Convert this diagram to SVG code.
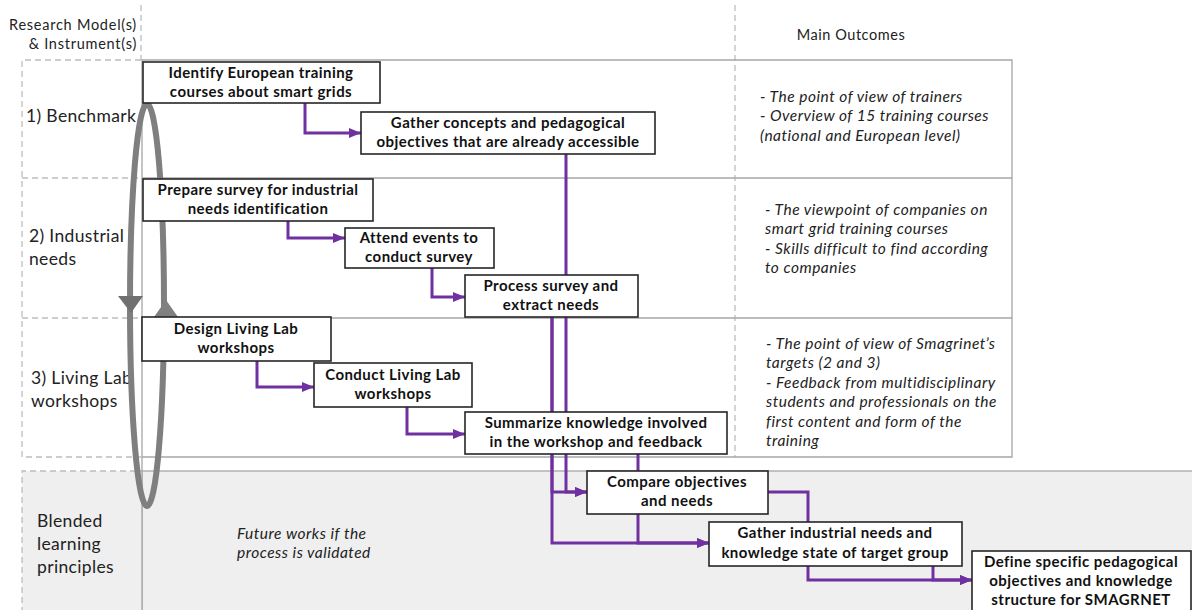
<svg xmlns="http://www.w3.org/2000/svg" width="1192" height="610" viewBox="0 0 1192 610">
<defs>
<style>
.grid{fill:none;stroke:#a6a6a6;stroke-width:1.3}
.dash{fill:none;stroke:#bdbdbd;stroke-width:1.3;stroke-dasharray:6,4}
.box{fill:#fff;stroke:#262626;stroke-width:1.6}
.nt{font-family:Lato,"Liberation Sans",sans-serif;font-weight:bold;font-size:15px;letter-spacing:0.45px;fill:#111;text-anchor:middle}
.lab{font-family:Lato,"Liberation Sans",sans-serif;font-size:17.5px;letter-spacing:0.35px;fill:#222}
.hdr{font-family:Lato,"Liberation Sans",sans-serif;font-size:14.5px;letter-spacing:0.55px;fill:#222}
.it{font-family:Lato,"Liberation Sans",sans-serif;font-style:italic;font-size:15.5px;letter-spacing:0.5px;fill:#222}
.con{fill:none;stroke:#7030a0;stroke-width:3}
</style>
<marker id="ah" markerUnits="userSpaceOnUse" viewBox="0 0 12 10" refX="12" refY="5" markerWidth="12" markerHeight="10" orient="auto">
<path d="M0,0 L12,5 L0,10 z" fill="#7030a0"/>
</marker>
</defs>
<rect width="1192" height="610" fill="#fff"/>
<!-- background grid -->
<g id="grid">
<rect x="142" y="471" width="1052" height="142" fill="#efefef" stroke="#a6a6a6" stroke-width="1.3"/>
<rect x="22" y="471" width="120" height="142" fill="#efefef"/>
<path class="dash" d="M22,613 V471 H142"/>
<path class="dash" d="M141,5 V60 M735,5 V457"/>
<path class="dash" d="M141,60 H22 V457 H141 M22,178 H141 M22,318 H141"/>
<path class="grid" d="M142,60 H1012 V457 H142 Z M142,178 H1012 M142,318 H1012 M142,457 V613"/>
</g>
<!-- headers and labels -->
<g id="headers">
<text class="hdr" x="137" y="30" text-anchor="end" style="letter-spacing:0.75px">Research Model(s)</text>
<text class="hdr" x="137" y="49" text-anchor="end" style="letter-spacing:0.75px">&amp; Instrument(s)</text>
<text class="hdr" x="851" y="40" text-anchor="middle">Main Outcomes</text>
</g>
<g id="row-labels">
<text class="lab" x="26" y="122">1) Benchmark</text>
<text class="lab" x="29" y="242">2) Industrial</text>
<text class="lab" x="29" y="265">needs</text>
<text class="lab" x="31" y="384">3) Living Lab</text>
<text class="lab" x="31" y="407">workshops</text>
<text class="lab" x="37" y="527">Blended</text>
<text class="lab" x="37" y="550">learning</text>
<text class="lab" x="37" y="573">principles</text>
</g>
<g id="outcomes">
<text class="it" x="760" y="102">- The point of view of trainers</text>
<text class="it" x="760" y="121">- Overview of 15 training courses</text>
<text class="it" x="760" y="141">(national and European level)</text>
<text class="it" x="765" y="215">- The viewpoint of companies on</text>
<text class="it" x="765" y="234">smart grid training courses</text>
<text class="it" x="765" y="254">- Skills difficult to find according</text>
<text class="it" x="765" y="273">to companies</text>
<text class="it" x="766" y="349">- The point of view of Smagrinet’s</text>
<text class="it" x="766" y="368">targets (2 and 3)</text>
<text class="it" x="766" y="388">- Feedback from multidisciplinary</text>
<text class="it" x="766" y="407">students and professionals on the</text>
<text class="it" x="766" y="427">first content and form of the</text>
<text class="it" x="766" y="446">training</text>
<text class="it" x="237" y="539">Future works if the</text>
<text class="it" x="237" y="558">process is validated</text>
</g>
<!-- cycle -->
<g id="cycle">
<ellipse cx="147" cy="305" rx="17" ry="201" fill="none" stroke="#7f7f7f" stroke-width="6"/>
<polygon points="118,296 143,296 131,313" fill="#707070"/>
<polygon points="154,317 178,317 166,300" fill="#808080"/>
</g>
<!-- connectors -->
<g id="connectors">
<path class="con" d="M305,103 V133 H361" marker-end="url(#ah)"/>
<path class="con" d="M288,221 V238 H345" marker-end="url(#ah)"/>
<path class="con" d="M432,268 V297 H465" marker-end="url(#ah)"/>
<path class="con" d="M257,361 V387 H314" marker-end="url(#ah)"/>
<path class="con" d="M407,407 V434 H465" marker-end="url(#ah)"/>
<path class="con" d="M566,154 V492 H587" marker-end="url(#ah)"/>
<path class="con" d="M552,317 V492 H587" marker-end="url(#ah)"/>
<path class="con" d="M552,317 V543 H709" marker-end="url(#ah)"/>
<path class="con" d="M638,454 V543 H709" marker-end="url(#ah)"/>
<path class="con" d="M768,492 H808 V580 H972" marker-end="url(#ah)"/>
<path class="con" d="M933,566 V580 H972" marker-end="url(#ah)"/>
</g>
<!-- nodes -->
<g id="n1"><rect class="box" x="143" y="62" width="237" height="41"/>
<text class="nt" x="261" y="78">Identify European training</text><text class="nt" x="261" y="97">courses about smart grids</text></g>
<g id="n2"><rect class="box" x="361" y="112" width="294" height="42"/>
<text class="nt" x="508" y="128">Gather concepts and pedagogical</text><text class="nt" x="508" y="147">objectives that are already accessible</text></g>
<g id="n3"><rect class="box" x="143" y="179" width="230" height="42"/>
<text class="nt" x="258" y="195">Prepare survey for industrial</text><text class="nt" x="258" y="214">needs identification</text></g>
<g id="n4"><rect class="box" x="345" y="228" width="149" height="40"/>
<text class="nt" x="419" y="243">Attend events to</text><text class="nt" x="419" y="262">conduct survey</text></g>
<g id="n5"><rect class="box" x="465" y="275" width="173" height="42"/>
<text class="nt" x="551" y="291">Process survey and</text><text class="nt" x="551" y="310">extract needs</text></g>
<g id="n6"><rect class="box" x="142" y="317" width="189" height="44"/>
<text class="nt" x="236" y="334">Design Living Lab</text><text class="nt" x="236" y="353">workshops</text></g>
<g id="n7"><rect class="box" x="314" y="363" width="158" height="44"/>
<text class="nt" x="393" y="380">Conduct Living Lab</text><text class="nt" x="393" y="399">workshops</text></g>
<g id="n8"><rect class="box" x="465" y="412" width="262" height="42"/>
<text class="nt" x="596" y="428">Summarize knowledge involved</text><text class="nt" x="596" y="447">in the workshop and feedback</text></g>
<g id="n9"><rect class="box" x="587" y="471" width="181" height="43"/>
<text class="nt" x="677" y="487">Compare objectives</text><text class="nt" x="677" y="506">and needs</text></g>
<g id="n10"><rect class="box" x="709" y="522" width="253" height="44"/>
<text class="nt" x="835" y="538">Gather industrial needs and</text><text class="nt" x="835" y="558">knowledge state of target group</text></g>
<g id="n11"><rect class="box" x="972" y="551" width="219" height="62"/>
<text class="nt" x="1081" y="567">Define specific pedagogical</text><text class="nt" x="1081" y="586">objectives and knowledge</text><text class="nt" x="1081" y="605">structure for SMAGRNET</text></g>
</svg>
